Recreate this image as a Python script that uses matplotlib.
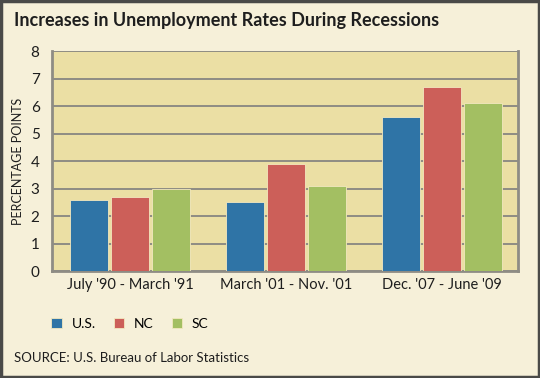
import numpy as np
import matplotlib.pyplot as plt
from matplotlib.patches import Rectangle

# data
periods = ["July '90 - March '91", "March '01 - Nov. '01", "Dec. '07 - June '09"]
series_names = ["U.S.", "NC", "SC"]
us_vals = [2.6, 2.5, 5.6]
nc_vals = [2.7, 3.9, 6.7]
sc_vals = [3.0, 3.1, 6.1]
colors = ["#2f74a6", "#cc5f59", "#a3bf62"]

plt.rcParams['font.family'] = ['Lato', 'DejaVu Sans']

fig = plt.figure(figsize=(5.4, 3.78), dpi=100)
fig.patch.set_facecolor("#f6f0d9")

# outer border
fig.patches.append(Rectangle((0.002, 0.003), 0.996, 0.994, transform=fig.transFigure,
                             fill=False, edgecolor="#4a4a48", linewidth=2.5))

ax = fig.add_axes([0.0963, 0.283, 0.863, 0.582])
ax.set_facecolor("#ebdfa4")

x = np.arange(len(periods))
w = 0.245
off = 0.263
for i, vals in enumerate([us_vals, nc_vals, sc_vals]):
    ax.bar(x + (i - 1) * off, vals, width=w, color=colors[i], edgecolor="#f3e8bf",
           linewidth=0.6, zorder=3, label=series_names[i])

ax.set_ylim(0, 8)
ax.set_xlim(-0.5, 2.49)
ax.set_yticks(range(0, 9))
ax.yaxis.grid(True, color="#8e8c84", linewidth=1.4, zorder=1)
ax.set_axisbelow(True)
ax.tick_params(axis='both', length=0, labelsize=10.5, colors="#1e1e1e")
ax.tick_params(axis='y', labelsize=11, pad=9)
ax.tick_params(axis='x', pad=5)
ax.set_xticks(x)
ax.set_xticklabels(periods)

for side in ["left", "bottom", "right"]:
    ax.spines[side].set_color("#8e8c84")
    ax.spines[side].set_linewidth(2)
ax.spines["top"].set_visible(False)

ax.set_ylabel("PERCENTAGE POINTS", fontsize=9, color="#1e1e1e", labelpad=5)

fig.text(0.026, 0.945, "Increases in Unemployment Rates During Recessions",
         fontsize=13, fontweight="bold", color="#1e1e1e", va="center", ha="left")

leg = fig.legend(loc="center left", bbox_to_anchor=(0.072, 0.143), ncol=3, frameon=False,
                 fontsize=10, handlelength=0.75, handleheight=0.75, columnspacing=1.3,
                 handletextpad=0.7)

fig.text(0.026, 0.052, "SOURCE: U.S. Bureau of Labor Statistics", fontsize=9.5,
         color="#1e1e1e", va="center", ha="left")

fig.savefig("out.png", dpi=100, facecolor=fig.get_facecolor())
